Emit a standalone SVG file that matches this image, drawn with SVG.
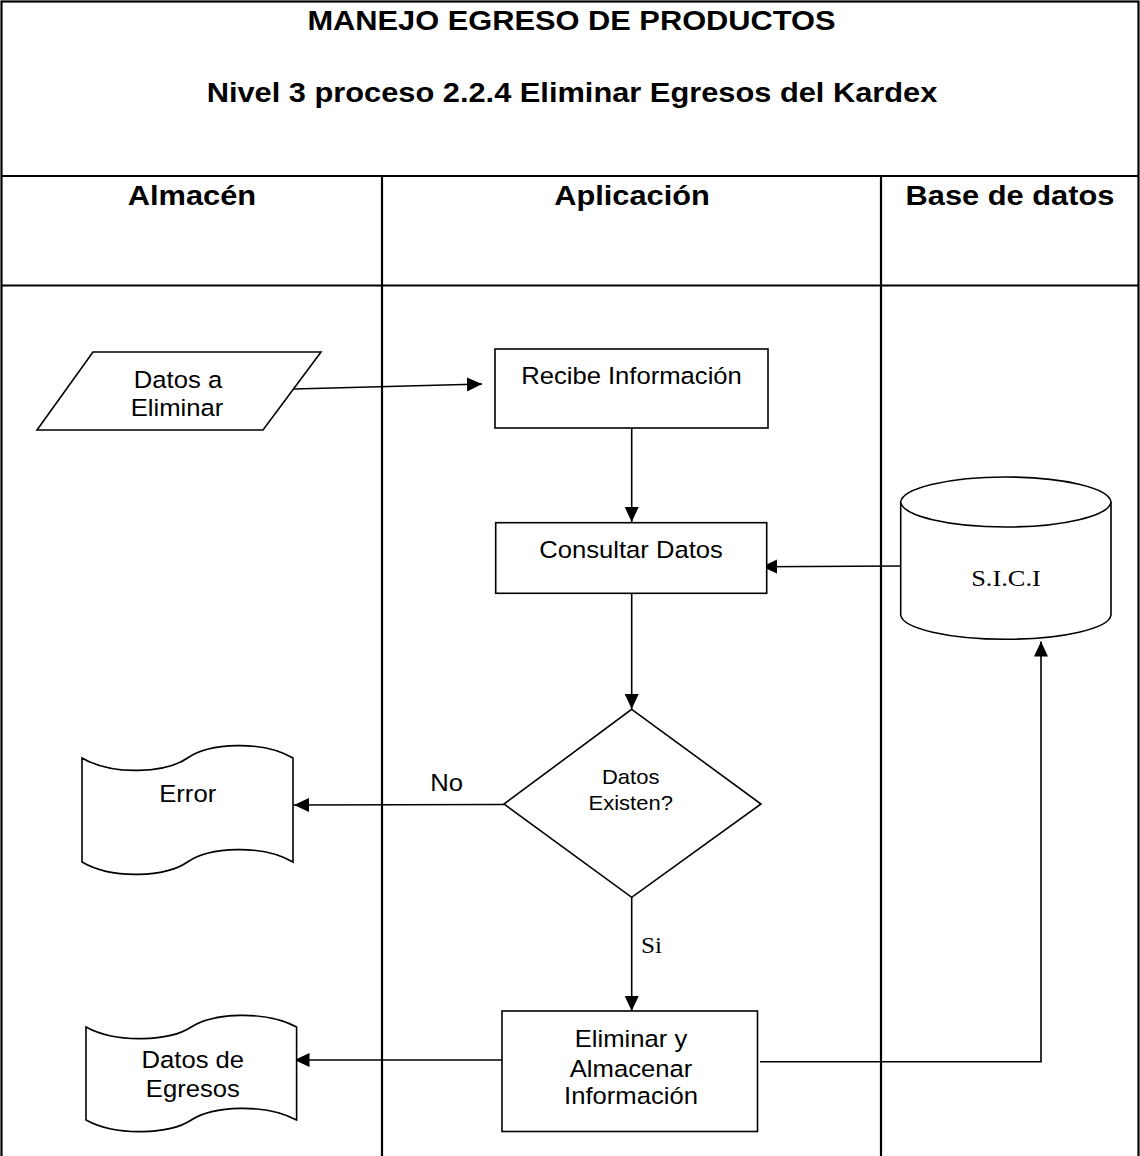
<svg xmlns="http://www.w3.org/2000/svg" width="1140" height="1156" viewBox="0 0 1140 1156">
<style>
.frame{fill:none;stroke:#000;stroke-width:2.2}
.shape{fill:#fff;stroke:#000;stroke-width:1.6}
.conn{fill:none;stroke:#000;stroke-width:1.6}
.hd{font-family:"Liberation Sans",Arial,sans-serif;font-weight:bold;font-size:28px;text-anchor:middle;fill:#000}
.tx{font-family:"Liberation Sans",Arial,sans-serif;font-size:23.3px;text-anchor:middle;fill:#000}
.sm{font-family:"Liberation Sans",Arial,sans-serif;font-size:20px;text-anchor:middle;fill:#000}
.sf{font-family:"Liberation Serif","Times New Roman",serif;font-size:24px;text-anchor:middle;fill:#000}
</style>
<defs>
<marker id="ah" markerUnits="userSpaceOnUse" markerWidth="16" markerHeight="15" refX="15" refY="7" orient="auto">
<path d="M0,0 L15,7 L0,14 z" fill="#000"/>
</marker>
</defs>
<rect width="1140" height="1156" fill="#fff"/>
<g id="frame">
<rect class="frame" x="1.5" y="1.5" width="1137" height="1170"/>
<line class="frame" x1="1" y1="176" x2="1139" y2="176"/>
<line class="frame" x1="1" y1="285.5" x2="1139" y2="285.5"/>
<line class="frame" x1="382" y1="176" x2="382" y2="1156"/>
<line class="frame" x1="881" y1="176" x2="881" y2="1156"/>
<text class="hd" transform="translate(571.5,30) scale(1.1,1)">MANEJO EGRESO DE PRODUCTOS</text>
<text class="hd" transform="translate(572,101.5) scale(1.1,1)">Nivel 3 proceso 2.2.4 Eliminar Egresos del Kardex</text>
<text class="hd" transform="translate(192,205) scale(1.1,1)">Almacén</text>
<text class="hd" transform="translate(632,205) scale(1.1,1)">Aplicación</text>
<text class="hd" transform="translate(1010,205) scale(1.1,1)">Base de datos</text>
</g>
<g id="connectors">
<line class="conn" x1="294" y1="389" x2="482" y2="384" marker-end="url(#ah)"/>
<line class="conn" x1="631.7" y1="428" x2="631.7" y2="522" marker-end="url(#ah)"/>
<line class="conn" x1="900.7" y1="566" x2="762" y2="566.7" marker-end="url(#ah)"/>
<line class="conn" x1="631.7" y1="593.5" x2="631.7" y2="709" marker-end="url(#ah)"/>
<line class="conn" x1="504" y1="804.5" x2="294" y2="805" marker-end="url(#ah)"/>
<line class="conn" x1="631.7" y1="897" x2="631.7" y2="1011" marker-end="url(#ah)"/>
<line class="conn" x1="504" y1="1060" x2="294.5" y2="1060" marker-end="url(#ah)"/>
<polyline class="conn" points="760,1061.7 1041,1061.7 1041,641.5" marker-end="url(#ah)"/>
<text class="tx" transform="translate(446.6,791) scale(1.1,1)">No</text>
<text class="sf" transform="translate(651.5,953.3) scale(1.05,1)">Si</text>
</g>
<g id="datos-eliminar">
<polygon class="shape" points="93,352 321,352 263,430 37,430"/>
<text class="tx" transform="translate(178,388.3) scale(1.1,1)">Datos a</text>
<text class="tx" transform="translate(177,416) scale(1.1,1)">Eliminar</text>
</g>
<g id="recibe">
<rect class="shape" x="495" y="349" width="273" height="79"/>
<text class="tx" transform="translate(631.5,384) scale(1.1,1)">Recibe Información</text>
</g>
<g id="consultar">
<rect class="shape" x="495.7" y="522.7" width="271" height="70.6"/>
<text class="tx" transform="translate(631,558.3) scale(1.1,1)">Consultar Datos</text>
</g>
<g id="sici">
<path class="shape" d="M900.7,502 L900.7,615 A105.2,25 0 0 0 1111,615 L1111,502 A105.2,25.8 0 0 0 900.7,502 Z"/>
<path class="shape" d="M900.7,502 A105.2,25.8 0 0 0 1111,502"/>
<text class="sf" transform="translate(1006,585.7) scale(1.1,1)">S.I.C.I</text>
</g>
<g id="decision">
<polygon class="shape" points="631.7,709.3 761,804 631.7,897.3 504,804"/>
<text class="sm" transform="translate(630.7,784) scale(1.1,1)">Datos</text>
<text class="sm" transform="translate(630.7,810) scale(1.1,1)">Existen?</text>
</g>
<g id="error">
<path class="shape" d="M82,758 C113,776 166,773 187.5,758 C209,743 262,740 293,758 L293,862 C262,844 209,847 187.5,862 C166,877 113,880 82,862 Z"/>
<text class="tx" transform="translate(187.7,801.7) scale(1.1,1)">Error</text>
</g>
<g id="eliminar">
<rect class="shape" x="502" y="1011" width="255.5" height="120.5"/>
<text class="tx" transform="translate(631,1046.5) scale(1.1,1)">Eliminar y</text>
<text class="tx" transform="translate(631,1076.7) scale(1.1,1)">Almacenar</text>
<text class="tx" transform="translate(631,1104) scale(1.1,1)">Información</text>
</g>
<g id="datos-egresos">
<path class="shape" d="M86,1027 C117,1044 170,1041 191.3,1027 C212.6,1013 265,1010 296.6,1027 L296.6,1120 C265,1103 212.6,1106 191.3,1120 C170,1134 117,1137 86,1120 Z"/>
<text class="tx" transform="translate(192.8,1068.3) scale(1.1,1)">Datos de</text>
<text class="tx" transform="translate(192.8,1096.7) scale(1.1,1)">Egresos</text>
</g>
</svg>
